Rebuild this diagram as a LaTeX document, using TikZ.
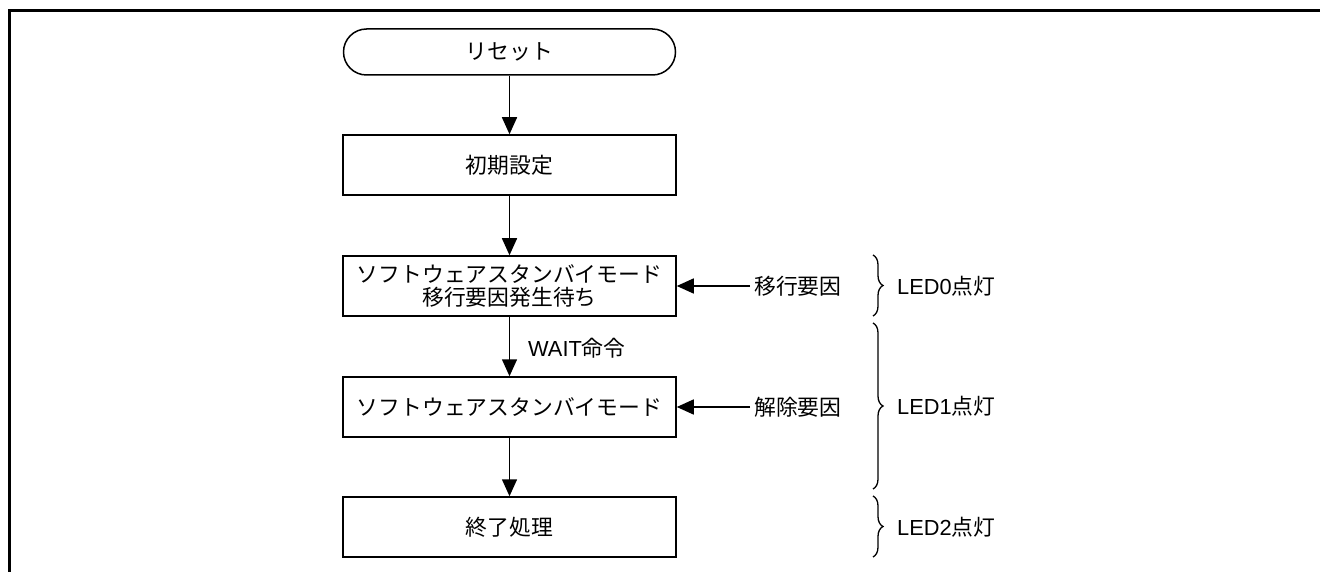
\documentclass[tikz,border=0pt]{standalone}
\usepackage{fontspec}
\setmainfont{Liberation Sans}
\newfontfamily\cjk{Noto Sans CJK JP}
\usetikzlibrary{arrows.meta,decorations.pathreplacing}
\newcommand{\jp}[1]{{\cjk #1}}
\begin{document}
\begin{tikzpicture}[x=1pt,y=-1pt,
  every node/.style={font=\fontsize{21.8pt}{24pt}\selectfont},
  procbox/.style={draw,line width=1.5pt,minimum width=333pt,minimum height=60pt,inner sep=0pt,align=center},
  termbox/.style={draw,line width=1.5pt,minimum width=332pt,minimum height=46pt,inner sep=0pt,rounded corners=23pt},
  arr/.style={line width=1.5pt,-{Triangle[length=17pt,width=15pt]}},
  lbl/.style={inner sep=1pt},
  sidelbl/.style={inner sep=4pt},
  bracestyle/.style={line width=1.3pt,decorate,decoration={brace,amplitude=10pt}}]
\useasboundingbox (0,0) rectangle (1320,572);
% frame
\draw[line width=3pt] (1320,10.5) -- (9.5,10.5) -- (9.5,572);
% nodes
\node[termbox] (reset) at (509.5,52) {\jp{リセット}};
\node[procbox] (init) at (509.5,165) {\jp{初期設定}};
\node[procbox] (wait) at (509.5,286) {\jp{ソフトウェアスタンバイモード}\\[-1pt]\jp{移行要因発生待ち}};
\node[procbox] (sby) at (509.5,407) {\jp{ソフトウェアスタンバイモード}};
\node[procbox] (fin) at (509.5,527) {\jp{終了処理}};
% side labels
\node[sidelbl,anchor=west] (f1) at (750,286) {\jp{移行要因}};
\node[sidelbl,anchor=west] (f2) at (750,407) {\jp{解除要因}};
\node[lbl,anchor=west] (wl) at (527,348) {WAIT\jp{命令}};
% connectors
\draw[arr] (reset) -- (init);
\draw[arr] (init) -- (wait);
\draw[arr] (wait) -- (sby);
\draw[arr] (sby) -- (fin);
\draw[arr] (f1.west) -- (wait.east);
\draw[arr] (f2.west) -- (sby.east);
% braces
\coordinate (b0t) at (873,255);
\coordinate (b0b) at (873,316);
\coordinate (b1t) at (873,323);
\coordinate (b1b) at (873,489);
\coordinate (b2t) at (873,496);
\coordinate (b2b) at (873,557);
\draw[bracestyle] (b0t) -- (b0b);
\draw[bracestyle] (b1t) -- (b1b);
\draw[bracestyle] (b2t) -- (b2b);
\node[lbl,anchor=west] (l0) at (896,286) {LED0\jp{点灯}};
\node[lbl,anchor=west] (l1) at (896,406) {LED1\jp{点灯}};
\node[lbl,anchor=west] (l2) at (896,527) {LED2\jp{点灯}};
\end{tikzpicture}
\end{document}
